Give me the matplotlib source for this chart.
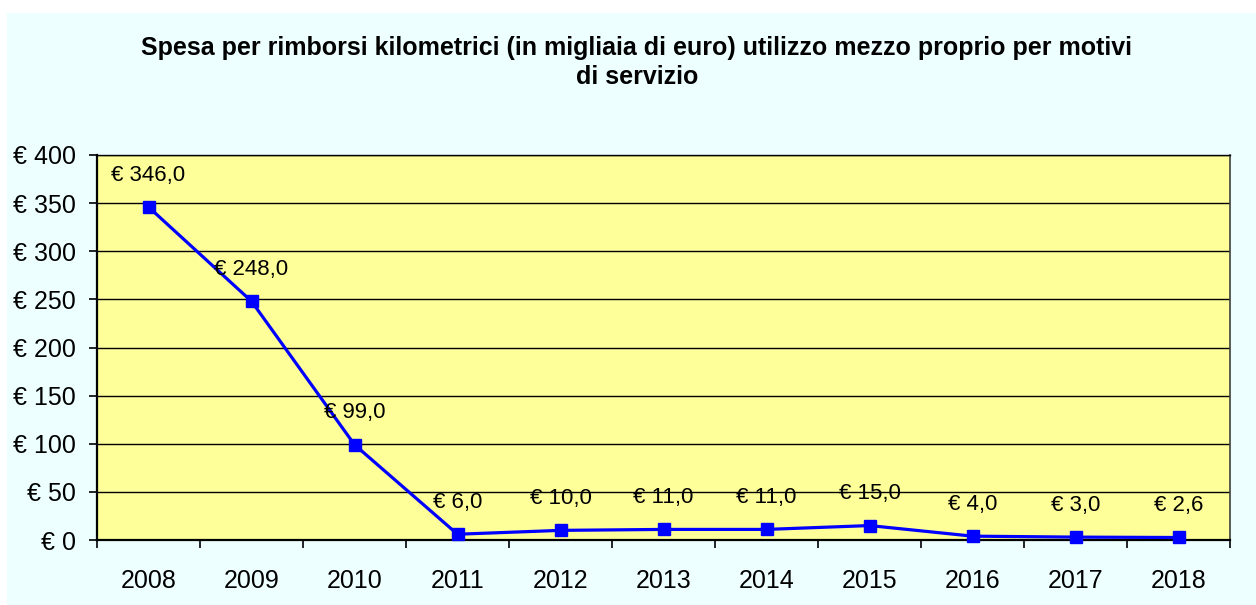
import matplotlib
matplotlib.use("Agg")
import matplotlib.pyplot as plt
from matplotlib.patches import Rectangle
from matplotlib.ticker import FuncFormatter

# Values (thousands of euro)
years = ["2008", "2009", "2010", "2011", "2012", "2013", "2014", "2015", "2016", "2017", "2018"]
spesa = [346.0, 248.0, 99.0, 6.0, 10.0, 11.0, 11.0, 15.0, 4.0, 3.0, 2.6]
y_ticks = [0, 50, 100, 150, 200, 250, 300, 350, 400]

TITLE = ("Spesa per rimborsi kilometrici (in migliaia di euro) utilizzo mezzo proprio per motivi\n"
         "di servizio")

BG_CHART = "#EEFFFF"
BG_PLOT = "#FFFF99"
LINE_BLUE = "#0000FF"

plt.rcParams["font.family"] = ["Liberation Sans", "DejaVu Sans"]

W, H = 1256, 605
fig = plt.figure(figsize=(W / 100, H / 100), dpi=100, facecolor="white")

# chart area background (white strip on the left and top in the original)
fig.patches.append(Rectangle((7 / W, 0), (W - 7) / W, (H - 13) / H,
                             transform=fig.transFigure, facecolor=BG_CHART,
                             edgecolor="none", zorder=-5))

ax = fig.add_axes([97 / W, (H - 540) / H, (1230 - 97) / W, (540 - 155) / H])
ax.set_facecolor(BG_PLOT)

x = list(range(len(years)))
ax.plot(x, spesa, color=LINE_BLUE, linewidth=2.3, marker="s", markersize=9,
        markerfacecolor=LINE_BLUE, markeredgecolor=LINE_BLUE, zorder=3, clip_on=False)

for xi, v in zip(x, spesa):
    lab = f"€ {v:.1f}".replace(".", ",")
    ax.annotate(lab, xy=(xi, v), xytext=(0, 23), textcoords="offset points",
                ha="center", va="center", fontsize=16, color="black", zorder=4)

ax.set_xlim(-0.5, len(years) - 0.5)
ax.set_ylim(0, 400)
ax.set_yticks(y_ticks)
ax.yaxis.set_major_formatter(FuncFormatter(lambda v, _: f"€ {int(v)}"))
ax.grid(axis="y", color="black", linewidth=1.0, zorder=1)
ax.set_axisbelow(True)

# category ticks sit on the boundaries, labels at the centres
ax.set_xticks([i - 0.5 for i in range(len(years) + 1)])
ax.set_xticklabels([])
ax.set_xticks(x, minor=True)
ax.set_xticklabels(years, minor=True)
ax.tick_params(axis="x", which="major", direction="out", length=6, width=1.2, color="black")
ax.tick_params(axis="x", which="minor", length=0, pad=21, labelsize=18)
ax.tick_params(axis="y", direction="out", length=6, width=1.2, pad=9, labelsize=18)

for side in ["left", "bottom"]:
    ax.spines[side].set_linewidth(1.6)
    ax.spines[side].set_color("black")
ax.spines["right"].set_color("#404040")
ax.spines["right"].set_linewidth(1.2)
ax.spines["top"].set_color("black")
ax.spines["top"].set_linewidth(1.0)

fig.text(0.507, 1 - 62.5 / H, TITLE, ha="center", va="center", fontsize=18,
         fontweight="bold", linespacing=1.3)

fig.savefig("out.png", dpi=100, facecolor=fig.get_facecolor())
